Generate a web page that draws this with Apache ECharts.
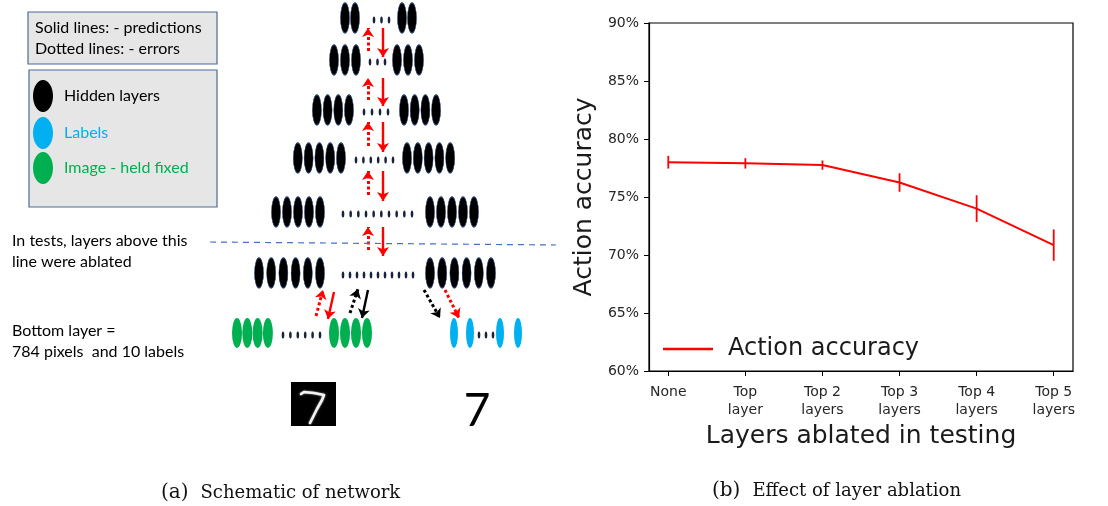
<!DOCTYPE html>
<html>
<head>
<meta charset="utf-8">
<script src="https://cdn.jsdelivr.net/npm/echarts@6/dist/echarts.min.js"></script>
<style>
  html, body { margin: 0; padding: 0; background: #fff; }
  #chart { width: 1108px; height: 506px; }
</style>
</head>
<body>
<div id="chart"></div>
<script>
// ---- Ablation results ----
const categories = ['None', 'Top\nlayer', 'Top 2\nlayers', 'Top 3\nlayers', 'Top 4\nlayers', 'Top 5\nlayers'];
const accuracy = [78.0, 77.9, 77.75, 76.25, 74.0, 70.85];
const accuracyErr = [0.55, 0.45, 0.4, 0.8, 1.15, 1.35];
const yTicks = [60, 65, 70, 75, 80, 85, 90];

// ---- Network schematic: units per hidden layer, top to bottom ----
const hiddenUnitsLeft = [2, 3, 4, 5, 5, 6];
const hiddenUnitsRight = [2, 3, 4, 5, 5, 6];
const hiddenDots = [3, 3, 4, 6, 10, 11];
// bottom layer: image units | dots | image units ; label units | dots | label units
const imageUnits = [4, 4];
const imageDots = 6;
const labelUnits = [2, 2];
const labelDots = 3;

// ---- Schematic layout (diagram space = pixels of the left panel) ----
const L = {
  rowY: [18, 60, 110, 158, 212, 273],
  rowStep: [10, 11, 10.7, 10.8, 11, 12.2],
  leftEnd: [355, 356, 349, 341, 320, 320],
  rightStart: [402, 397, 404, 407, 430, 430],
  dotSpan: [[374, 389], [370, 385], [364, 388], [356, 393], [343, 412], [343, 413]],
  arrowTop: [28, 78, 122, 171, 227],
  arrowBottom: [57, 106, 152, 201, 256],
  upX: 368, downX: 383,
  bottomY: 333,
  imageLeftStart: 237, imageStep: 10.3, imageDotSpan: [283, 320], imageRightStart: 334, imageRightStep: 11,
  labelX: [454, 470, 500, 518], labelDotSpan: [479, 493]
};

const hiddenNodes = [];
const smallDots = [];
hiddenUnitsLeft.forEach((n, r) => {
  const y = L.rowY[r], s = L.rowStep[r];
  for (let i = 0; i < n; i++) hiddenNodes.push([L.leftEnd[r] - (n - 1 - i) * s, y]);
  for (let i = 0; i < hiddenUnitsRight[r]; i++) hiddenNodes.push([L.rightStart[r] + i * s, y]);
  const [a, b] = L.dotSpan[r], m = hiddenDots[r];
  for (let i = 0; i < m; i++) smallDots.push([a + (b - a) * i / (m - 1), y + 2]);
});

const imageNodes = [];
for (let i = 0; i < imageUnits[0]; i++) imageNodes.push([L.imageLeftStart + i * L.imageStep, L.bottomY]);
for (let i = 0; i < imageUnits[1]; i++) imageNodes.push([L.imageRightStart + i * L.imageRightStep, L.bottomY]);
for (let i = 0; i < imageDots; i++) {
  const [a, b] = L.imageDotSpan;
  smallDots.push([a + (b - a) * i / (imageDots - 1), L.bottomY + 2]);
}
const labelNodes = L.labelX.slice(0, labelUnits[0] + labelUnits[1]).map(x => [x, L.bottomY]);
for (let i = 0; i < labelDots; i++) {
  const [a, b] = L.labelDotSpan;
  smallDots.push([a + (b - a) * i / (labelDots - 1), L.bottomY + 2]);
}

// prediction (solid, downward) and error (dotted, upward) arrows between hidden layers
const redSolid = [], redDotted = [], blackSolid = [], blackDotted = [];
L.arrowTop.forEach((t, k) => {
  redSolid.push({ coords: [[L.downX, t], [L.downX, L.arrowBottom[k]]] });
  redDotted.push({ coords: [[L.upX, L.arrowBottom[k] - 6], [L.upX, t]] });
});
// arrows to / from the bottom layer
redDotted.push({ coords: [[316, 316], [323, 290]] });
redSolid.push({ coords: [[334, 292], [328, 319]] });
blackDotted.push({ coords: [[350, 313], [358, 289]] });
blackSolid.push({ coords: [[368, 290], [362, 318]] });
blackDotted.push({ coords: [[424, 290], [440, 318]] });
redDotted.push({ coords: [[445, 290], [459, 318]] });

const ablationLine = [{ coords: [[210, 242], [556, 245]] }];

const SANS = 'Lato';
const MPL = 'DejaVu Sans';

const arrowSeries = (data, color, dotted) => ({
  type: 'lines',
  coordinateSystem: 'cartesian2d',
  xAxisIndex: 0, yAxisIndex: 0,
  symbol: ['none', 'arrow'],
  symbolSize: 9,
  silent: true,
  lineStyle: { color, width: dotted ? 3 : 2.4, type: dotted ? [3, 2.5] : 'solid', opacity: 1 },
  data
});

const chart = echarts.init(document.getElementById('chart'), null, { renderer: 'canvas' });

chart.setOption({
  animation: false,
  backgroundColor: '#ffffff',
  grid: [
    { left: 0, top: 0, width: 560, height: 506, outerBoundsMode: 'none' },
    { left: 649, top: 23, width: 424, height: 348, show: true, borderColor: '#000', borderWidth: 1.2, outerBoundsMode: 'none' }
  ],
  xAxis: [
    { gridIndex: 0, type: 'value', min: 0, max: 560, show: false },
    {
      gridIndex: 1, type: 'value', min: -0.25, max: 5.25,
      splitLine: { show: false },
      axisLine: { onZero: false, lineStyle: { color: '#000', width: 1.2 } },
      axisTick: { customValues: [0, 1, 2, 3, 4, 5], length: 5, lineStyle: { color: '#000' } },
      axisLabel: {
        customValues: [0, 1, 2, 3, 4, 5],
        formatter: v => categories[Math.round(v)],
        fontFamily: MPL, fontSize: 14, color: '#262626', lineHeight: 18, margin: 12
      },
      name: 'Layers ablated in testing',
      nameLocation: 'middle', nameGap: 53,
      nameTextStyle: { fontFamily: MPL, fontSize: 25, color: '#1a1a1a' }
    }
  ],
  yAxis: [
    { gridIndex: 0, type: 'value', min: 0, max: 506, inverse: true, show: false },
    {
      gridIndex: 1, type: 'value', min: yTicks[0], max: yTicks[yTicks.length - 1], interval: 5,
      splitLine: { show: false },
      axisLine: { show: true, onZero: false, lineStyle: { color: '#000', width: 1.2 } },
      axisTick: { show: true, length: 5, lineStyle: { color: '#000' } },
      axisLabel: { formatter: '{value}%', fontFamily: MPL, fontSize: 14, color: '#262626', margin: 10 },
      name: 'Action accuracy',
      nameLocation: 'middle', nameGap: 52, nameRotate: 90,
      nameTextStyle: { fontFamily: MPL, fontSize: 25, color: '#1a1a1a' }
    }
  ],
  legend: {
    data: ['Action accuracy'],
    left: 658, top: 332,
    icon: 'rect', itemWidth: 50, itemHeight: 2.5,
    textStyle: { fontFamily: MPL, fontSize: 24, color: '#1a1a1a', padding: [0, 0, 0, 10] },
    selectedMode: false
  },
  series: [
    {
      type: 'scatter', xAxisIndex: 0, yAxisIndex: 0, silent: true,
      symbol: 'circle', symbolSize: [9, 30],
      itemStyle: { color: '#000', borderColor: '#1f3864', borderWidth: 0.8, opacity: 1 },
      data: hiddenNodes
    },
    {
      type: 'scatter', xAxisIndex: 0, yAxisIndex: 0, silent: true,
      symbol: 'circle', symbolSize: [2.6, 7],
      itemStyle: { color: '#17233d', opacity: 1 },
      data: smallDots
    },
    {
      type: 'scatter', xAxisIndex: 0, yAxisIndex: 0, silent: true,
      symbol: 'circle', symbolSize: [10, 30],
      itemStyle: { color: '#00b050', opacity: 1 },
      data: imageNodes
    },
    {
      type: 'scatter', xAxisIndex: 0, yAxisIndex: 0, silent: true,
      symbol: 'circle', symbolSize: [8, 30],
      itemStyle: { color: '#00b0f0', opacity: 1 },
      data: labelNodes
    },
    arrowSeries(redSolid, '#ff0000', false),
    arrowSeries(redDotted, '#ff0000', true),
    arrowSeries(blackSolid, '#000000', false),
    arrowSeries(blackDotted, '#000000', true),
    {
      type: 'lines', coordinateSystem: 'cartesian2d', xAxisIndex: 0, yAxisIndex: 0, silent: true,
      symbol: ['none', 'none'],
      lineStyle: { color: '#4472c4', width: 1.2, type: [6, 5], opacity: 1 },
      data: ablationLine
    },
    {
      name: 'Action accuracy',
      type: 'line', xAxisIndex: 1, yAxisIndex: 1,
      showSymbol: false, symbol: 'none',
      color: '#ff0000',
      lineStyle: { color: '#ff0000', width: 2 },
      data: accuracy.map((v, i) => [i, v])
    },
    {
      name: 'error',
      type: 'custom', xAxisIndex: 1, yAxisIndex: 1, silent: true,
      encode: { x: 0, y: 1 },
      renderItem: (params, api) => {
        const x = api.value(0), y = api.value(1), e = api.value(2);
        const p1 = api.coord([x, y + e]);
        const p2 = api.coord([x, y - e]);
        return {
          type: 'line',
          shape: { x1: p1[0], y1: p1[1], x2: p2[0], y2: p2[1] },
          style: { stroke: '#ff0000', lineWidth: 1.8 }
        };
      },
      data: accuracy.map((v, i) => [i, v, accuracyErr[i]])
    }
  ],
  graphic: [
    // key boxes
    { type: 'rect', shape: { x: 28, y: 12, width: 189, height: 52 }, style: { fill: '#e7e6e6', stroke: '#4e6a94', lineWidth: 1.2 } },
    { type: 'text', x: 35, y: 28, style: { text: 'Solid lines: - predictions', font: '16px ' + SANS, fill: '#000', verticalAlign: 'middle' } },
    { type: 'text', x: 35, y: 49, style: { text: 'Dotted lines: - errors', font: '16px ' + SANS, fill: '#000', verticalAlign: 'middle' } },
    { type: 'rect', shape: { x: 29, y: 70, width: 188, height: 137 }, style: { fill: '#e7e6e6', stroke: '#4e6a94', lineWidth: 1.2 } },
    { type: 'ellipse', shape: { cx: 43, cy: 96, rx: 10, ry: 16 }, style: { fill: '#000' } },
    { type: 'ellipse', shape: { cx: 43, cy: 133, rx: 10, ry: 16 }, style: { fill: '#00b0f0' } },
    { type: 'ellipse', shape: { cx: 43, cy: 168, rx: 10, ry: 16 }, style: { fill: '#00b050' } },
    { type: 'text', x: 64, y: 96, style: { text: 'Hidden layers', font: '16px ' + SANS, fill: '#000', verticalAlign: 'middle' } },
    { type: 'text', x: 64, y: 133, style: { text: 'Labels', font: '16px ' + SANS, fill: '#00b0f0', verticalAlign: 'middle' } },
    { type: 'text', x: 64, y: 168, style: { text: 'Image - held fixed', font: '16px ' + SANS, fill: '#00b050', verticalAlign: 'middle' } },
    // side notes
    { type: 'text', x: 12, y: 241, style: { text: 'In tests, layers above this', font: '16px ' + SANS, fill: '#000', verticalAlign: 'middle' } },
    { type: 'text', x: 12, y: 262, style: { text: 'line were ablated', font: '16px ' + SANS, fill: '#000', verticalAlign: 'middle' } },
    { type: 'text', x: 12, y: 331, style: { text: 'Bottom layer =', font: '16px ' + SANS, fill: '#000', verticalAlign: 'middle' } },
    { type: 'text', x: 12, y: 352, style: { text: '784 pixels  and 10 labels', font: '16px ' + SANS, fill: '#000', verticalAlign: 'middle' } },
    // input digit and its label
    { type: 'rect', shape: { x: 291, y: 382, width: 45, height: 44 }, style: { fill: '#000' } },
    {
      type: 'polyline',
      shape: { points: [[301, 394], [304, 392], [314, 393], [324, 395], [322, 400], [317, 409], [312, 419], [310, 423]] },
      style: { stroke: '#f2f2f2', lineWidth: 2.6, fill: null, lineCap: 'round', lineJoin: 'round', shadowBlur: 2, shadowColor: '#bbbbbb' }
    },
    { type: 'text', x: 477, y: 411, style: { text: '7', font: '46px ' + SANS, fill: '#000', align: 'center', verticalAlign: 'middle' } },
    // sub-captions
    {
      type: 'text', x: 161, y: 493,
      style: {
        text: '{a|(a)}{b|Schematic of network}',
        verticalAlign: 'middle',
        rich: {
          a: { font: '20px "DejaVu Serif"', fill: '#111' },
          b: { font: '18px "DejaVu Serif"', fill: '#111', padding: [0, 0, 0, 12] }
        }
      }
    },
    {
      type: 'text', x: 712, y: 491,
      style: {
        text: '{a|(b)}{b|Effect of layer ablation}',
        verticalAlign: 'middle',
        rich: {
          a: { font: '20px "DejaVu Serif"', fill: '#111' },
          b: { font: '18px "DejaVu Serif"', fill: '#111', padding: [0, 0, 0, 12] }
        }
      }
    }
  ]
});
</script>
</body>
</html>
